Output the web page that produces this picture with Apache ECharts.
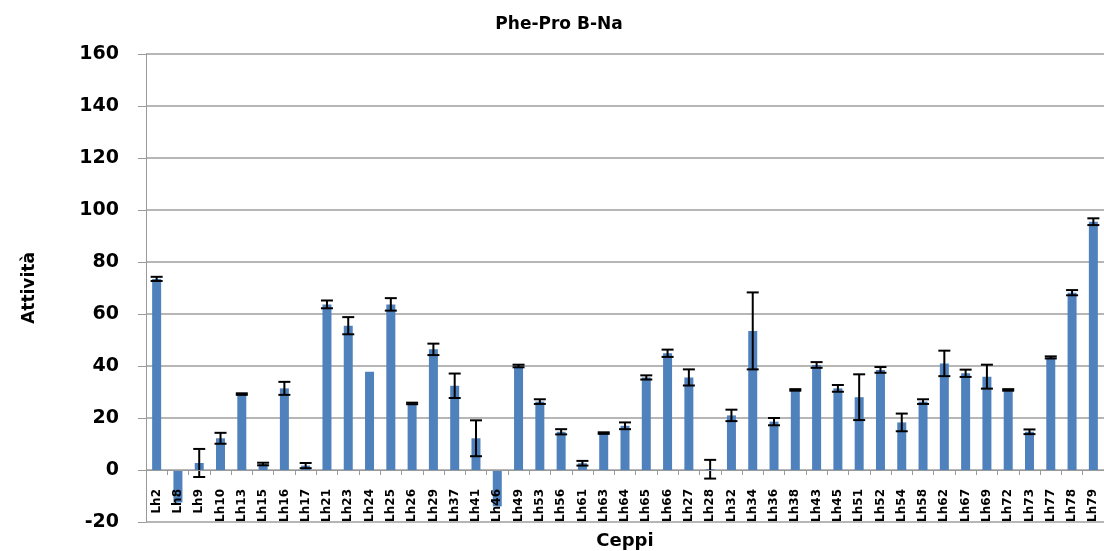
<!DOCTYPE html>
<html><head><meta charset="utf-8">
<script src="https://cdn.jsdelivr.net/npm/echarts@6/dist/echarts.min.js"></script>
<style>html,body{margin:0;padding:0;background:#fff}#c{width:1104px;height:551px}</style>
</head><body><div id="c"></div>
<script>
var categories = ["Lh2","Lh8","Lh9","Lh10","Lh13","Lh15","Lh16","Lh17","Lh21","Lh23","Lh24","Lh25","Lh26","Lh29","Lh37","Lh41","Lh46","Lh49","Lh53","Lh56","Lh61","Lh63","Lh64","Lh65","Lh66","Lh27","Lh28","Lh32","Lh34","Lh36","Lh38","Lh43","Lh45","Lh51","Lh52","Lh54","Lh58","Lh62","Lh67","Lh69","Lh72","Lh73","Lh77","Lh78","Lh79"];
var values = [73.5,-12.5,2.7,12.2,29.2,2.3,31.4,1.7,63.7,55.5,37.8,63.7,25.6,46.4,32.4,12.2,-14,40,26.3,14.7,2.6,14.2,17,35.6,44.9,35.6,0.3,21,53.5,18.6,30.8,40.4,31.4,28,38.5,18.3,26.3,41,37.2,35.9,30.8,14.7,43.3,68.2,95.5];
var errors = [0.8,0,5.4,2.1,0.3,0.5,2.5,1.0,1.5,3.3,0,2.4,0.3,2.2,4.7,6.9,0,0.5,0.9,1.0,0.9,0.3,1.3,0.8,1.4,3.1,3.6,2.2,14.8,1.4,0.3,1.1,1.3,8.8,1.1,3.4,0.9,4.9,1.4,4.6,0.3,0.9,0.4,1.0,1.3];
var yTicks = {min:-20, max:160, interval:20};

var chart = echarts.init(document.getElementById('c'));
var errData = categories.map(function(c,i){return [i, values[i]-errors[i], values[i]+errors[i], errors[i]];});
chart.setOption({
  animation:false,
  title:{text:'Phe-Pro B-Na', left:554, top:11, textAlign:'center',
    textStyle:{fontFamily:'DejaVu Sans', fontWeight:'bold', fontSize:17, color:'#000'}},
  grid:{left:146, right:0, top:54, bottom:29, containLabel:false, outerBoundsMode:'none'},
  xAxis:{type:'category', data:categories, position:'bottom', offset:-52, z:10,
    name:'Ceppi', nameLocation:'middle', nameGap:62,
    nameTextStyle:{fontFamily:'DejaVu Sans', fontWeight:'bold', fontSize:18, color:'#000'},
    axisLine:{onZero:false, lineStyle:{color:'#9a9a9a', width:1}},
    axisTick:{show:true, alignWithLabel:false, length:5, lineStyle:{color:'#9a9a9a'}},
    axisLabel:{interval:0, rotate:90, margin:19, fontFamily:'DejaVu Sans', fontWeight:'bold', fontSize:12, color:'#000'}
  },
  yAxis:{type:'value', min:yTicks.min, max:yTicks.max, interval:yTicks.interval,
    name:'Attività', nameLocation:'middle', nameGap:108, nameRotate:90,
    nameTextStyle:{fontFamily:'DejaVu Sans', fontWeight:'bold', fontSize:17, color:'#000'},
    axisLine:{show:true, lineStyle:{color:'#9a9a9a'}},
    axisTick:{show:true, length:8, lineStyle:{color:'#9a9a9a'}},
    axisLabel:{margin:27, fontFamily:'DejaVu Sans', fontWeight:'bold', fontSize:19, color:'#000'},
    splitLine:{lineStyle:{color:'#9e9e9e', width:1.5}}
  },
  series:[
    {type:'bar', data:values, barWidth:9, itemStyle:{color:'#4f81bd'}, z:2},
    {type:'custom', data:errData, z:5,
      renderItem:function(params, api){
        if (api.value(3) === 0) return null;
        var x = api.value(0);
        var lo = api.coord([x, api.value(1)]);
        var hi = api.coord([x, api.value(2)]);
        var hw = 6;
        var st = {stroke:'#000', lineWidth:2};
        return {type:'group', children:[
          {type:'line', shape:{x1:lo[0], y1:lo[1], x2:hi[0], y2:hi[1]}, style:st},
          {type:'line', shape:{x1:lo[0]-hw, y1:lo[1], x2:lo[0]+hw, y2:lo[1]}, style:st},
          {type:'line', shape:{x1:hi[0]-hw, y1:hi[1], x2:hi[0]+hw, y2:hi[1]}, style:st}
        ]};
      }
    }
  ]
});
</script></body></html>
